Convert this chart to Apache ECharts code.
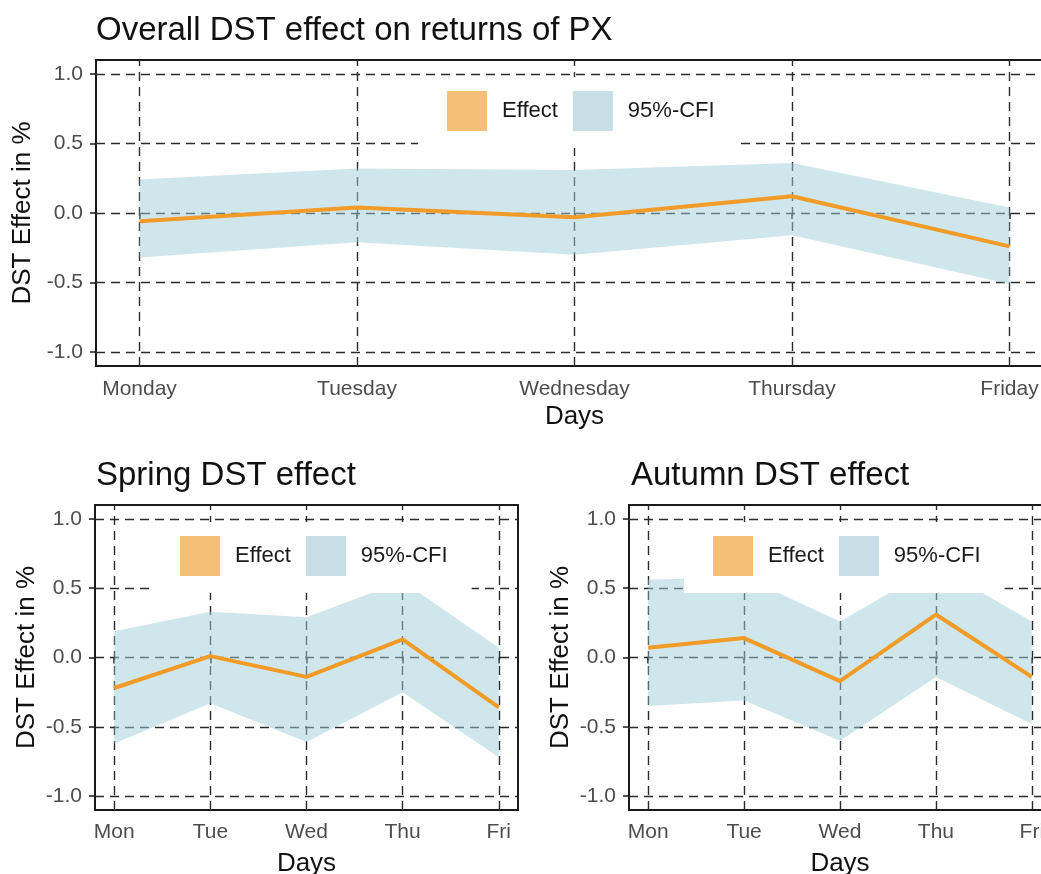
<!DOCTYPE html>
<html>
<head>
<meta charset="utf-8">
<title>DST effect on returns of PX</title>
<script src="https://cdn.jsdelivr.net/npm/echarts@6/dist/echarts.min.js"></script>
<style>
  html, body { margin: 0; padding: 0; background: #fff; }
  #chart { width: 1041px; height: 874px; }
</style>
</head>
<body>
<div id="chart"></div>
<script>
// Weekday labels (long for the overall panel, short for the seasonal panels)
const daysLong = ['Monday', 'Tuesday', 'Wednesday', 'Thursday', 'Friday'];
const daysShort = ['Mon', 'Tue', 'Wed', 'Thu', 'Fri'];
const dayPositions = [1, 2, 3, 4, 5];
const yTicks = [-1, -0.5, 0, 0.5, 1];

// Overall DST effect (%), with 95% credible interval bounds
const overallEffect = [-0.06, 0.04, -0.03, 0.12, -0.24];
const overallLower  = [-0.32, -0.21, -0.30, -0.16, -0.51];
const overallUpper  = [0.24, 0.32, 0.31, 0.36, 0.04];

// Spring DST effect (%)
const springEffect = [-0.22, 0.01, -0.14, 0.13, -0.36];
const springLower  = [-0.62, -0.33, -0.61, -0.25, -0.72];
const springUpper  = [0.19, 0.33, 0.29, 0.55, 0.07];

// Autumn DST effect (%)
const autumnEffect = [0.07, 0.14, -0.17, 0.31, -0.14];
const autumnLower  = [-0.35, -0.31, -0.60, -0.14, -0.48];
const autumnUpper  = [0.56, 0.58, 0.26, 0.66, 0.26];

const FONT = "'Liberation Sans', Arial, Helvetica, sans-serif";
const EFFECT_COLOR = '#f29b26';
const BAND_COLOR = 'rgba(160, 205, 220, 0.5)';
const GRID_DASH = { type: [9, 6], color: '#2b2b2b', width: 1.4 };

const panels = [
  { title: 'Overall DST effect on returns of PX', labels: daysLong,
    effect: overallEffect, lower: overallLower, upper: overallUpper,
    grid: { left: 96, top: 60, width: 957, height: 306 },
    titlePos: { left: 91, top: 9 },
    legendPos: { left: 418, top: 77 },
    labelMargin: 13, daysGap: 38 },
  { title: 'Spring DST effect', labels: daysShort,
    effect: springEffect, lower: springLower, upper: springUpper,
    grid: { left: 95, top: 505, width: 423, height: 305 },
    titlePos: { left: 91, top: 454 },
    legendPos: { left: 151, top: 522 },
    labelMargin: 12, daysGap: 41 },
  { title: 'Autumn DST effect', labels: daysShort,
    effect: autumnEffect, lower: autumnLower, upper: autumnUpper,
    grid: { left: 629, top: 505, width: 422, height: 305 },
    titlePos: { left: 626, top: 454 },
    legendPos: { left: 684, top: 522 },
    labelMargin: 12, daysGap: 41 }
];

const pairs = (ys) => ys.map((y, i) => [dayPositions[i], y]);

const option = {
  animation: false,
  textStyle: { fontFamily: FONT },
  title: [], grid: [], xAxis: [], yAxis: [], legend: [], series: []
};

panels.forEach((p, k) => {
  option.title.push({
    text: p.title, left: p.titlePos.left, top: p.titlePos.top,
    textStyle: { fontSize: 33, fontWeight: 'normal', color: '#111', fontFamily: FONT }
  });

  // Panels keep their exact size; labels may run past the canvas edge
  option.grid.push(Object.assign({
    show: true, borderColor: '#1a1a1a', borderWidth: 2,
    backgroundColor: 'transparent', containLabel: false,
    outerBoundsMode: 'none'
  }, p.grid));

  option.xAxis.push({
    type: 'value', gridIndex: k, min: 0.8, max: 5.2,
    axisLine: { show: false },
    splitLine: { show: false },
    axisTick: { show: true, customValues: dayPositions, length: 6,
                lineStyle: { color: '#1a1a1a', width: 1.5 } },
    axisLabel: { customValues: dayPositions, margin: p.labelMargin,
                 fontSize: 21, color: '#4d4d4d', fontFamily: FONT,
                 formatter: (v) => p.labels[Math.round(v) - 1] },
    name: 'Days', nameLocation: 'middle', nameGap: p.daysGap,
    nameTextStyle: { fontSize: 26, color: '#111', fontFamily: FONT }
  });

  option.yAxis.push({
    type: 'value', gridIndex: k, min: -1.1, max: 1.1,
    axisLine: { show: false },
    splitLine: { show: false },
    axisTick: { show: true, customValues: yTicks, length: 6,
                lineStyle: { color: '#1a1a1a', width: 1.5 } },
    axisLabel: { customValues: yTicks, margin: 13,
                 fontSize: 21, color: '#4d4d4d', fontFamily: FONT,
                 formatter: (v) => v.toFixed(1) },
    name: 'DST Effect in %', nameLocation: 'middle', nameGap: 55,
    nameTextStyle: { fontSize: 26, color: '#111', fontFamily: FONT }
  });

  option.legend.push({
    left: p.legendPos.left, top: p.legendPos.top,
    orient: 'horizontal', selectedMode: false,
    backgroundColor: '#ffffff',
    padding: [14, 24, 17, 29],
    icon: 'rect', itemWidth: 40, itemHeight: 40, itemGap: 15,
    itemStyle: { borderWidth: 0 },
    textStyle: { fontSize: 22, color: '#1a1a1a', fontFamily: FONT, padding: [0, 0, 0, 10] },
    data: [
      { name: 'Effect', itemStyle: { color: '#f5bf78' } },
      { name: '95%-CFI', itemStyle: { color: '#c6dfe6' } }
    ]
  });

  // 95% credible interval band: one polygon through the upper bounds and
  // back along the lower bounds, placed with the axes' own scales
  option.series.push({
    type: 'custom', name: '95%-CFI', xAxisIndex: k, yAxisIndex: k,
    silent: true, z: 2,
    itemStyle: { color: '#c6dfe6' },
    encode: { x: 0, y: [1, 2] },
    data: p.lower.map((l, i) => [dayPositions[i], l, p.upper[i]]),
    renderItem: (params, api) => {
      if (params.dataIndex !== 0) return null;
      const top = p.upper.map((u, i) => api.coord([dayPositions[i], u]));
      const bottom = p.lower.map((l, i) => api.coord([dayPositions[i], l])).reverse();
      return {
        type: 'polygon',
        shape: { points: top.concat(bottom) },
        style: { fill: BAND_COLOR, stroke: null }
      };
    }
  });

  // Point estimate, also carrying the dashed reference grid beneath the band
  option.series.push({
    type: 'line', name: 'Effect', xAxisIndex: k, yAxisIndex: k,
    symbol: 'none', silent: true, z: 3,
    lineStyle: { color: EFFECT_COLOR, width: 4 },
    itemStyle: { color: EFFECT_COLOR },
    data: pairs(p.effect),
    markLine: {
      silent: true, symbol: 'none', z: 1, animation: false,
      label: { show: false },
      lineStyle: GRID_DASH,
      emphasis: { disabled: true },
      data: dayPositions.map((x) => ({ xAxis: x }))
        .concat(yTicks.map((y) => ({ yAxis: y })))
    }
  });
});

const chart = echarts.init(document.getElementById('chart'), null, { renderer: 'canvas' });
chart.setOption(option);
</script>
</body>
</html>
